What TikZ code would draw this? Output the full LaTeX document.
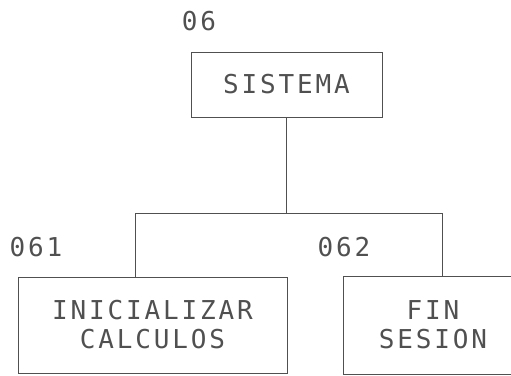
\documentclass[tikz,border=0pt]{standalone}
\usepackage{fontspec}
\newfontfamily\plotfont[LetterSpace=11]{DejaVu Sans Mono}
\definecolor{ink}{HTML}{505050}
\begin{document}
\begin{tikzpicture}[x=1pt,y=-1pt,
  every node/.style={font=\plotfont\fontsize{26}{29}\selectfont, text=ink},
  box/.style={draw=ink, line width=0.9pt, inner sep=0pt, align=center},
  lbl/.style={inner sep=0pt},
  conn/.style={draw=ink, line width=0.9pt}]
\useasboundingbox (0,0) rectangle (511,375);
\node[box, minimum width=191pt, minimum height=65pt] (sis) at (286.5,84.5) {SISTEMA};
\node[box, minimum width=269pt, minimum height=96pt] (ini) at (152.5,325) {INICIALIZAR\\CALCULOS};
\node[box, minimum width=180pt, minimum height=98pt] (fin) at (433,325) {FIN\\SESION};
\node[lbl] (l06) at (199,21) {06};
\node[lbl] (l061) at (36,247) {061};
\node[lbl] (l062) at (344,247) {062};
\coordinate (j) at (286.5,213);
\coordinate (jl) at (135,213);
\coordinate (jr) at (442,213);
\draw[conn] (sis.south) -- (j);
\draw[conn] (jl) -- (jr);
\draw[conn] (jl) -- (jl |- ini.north);
\draw[conn] (jr) -- (jr |- fin.north);
\end{tikzpicture}
\end{document}
